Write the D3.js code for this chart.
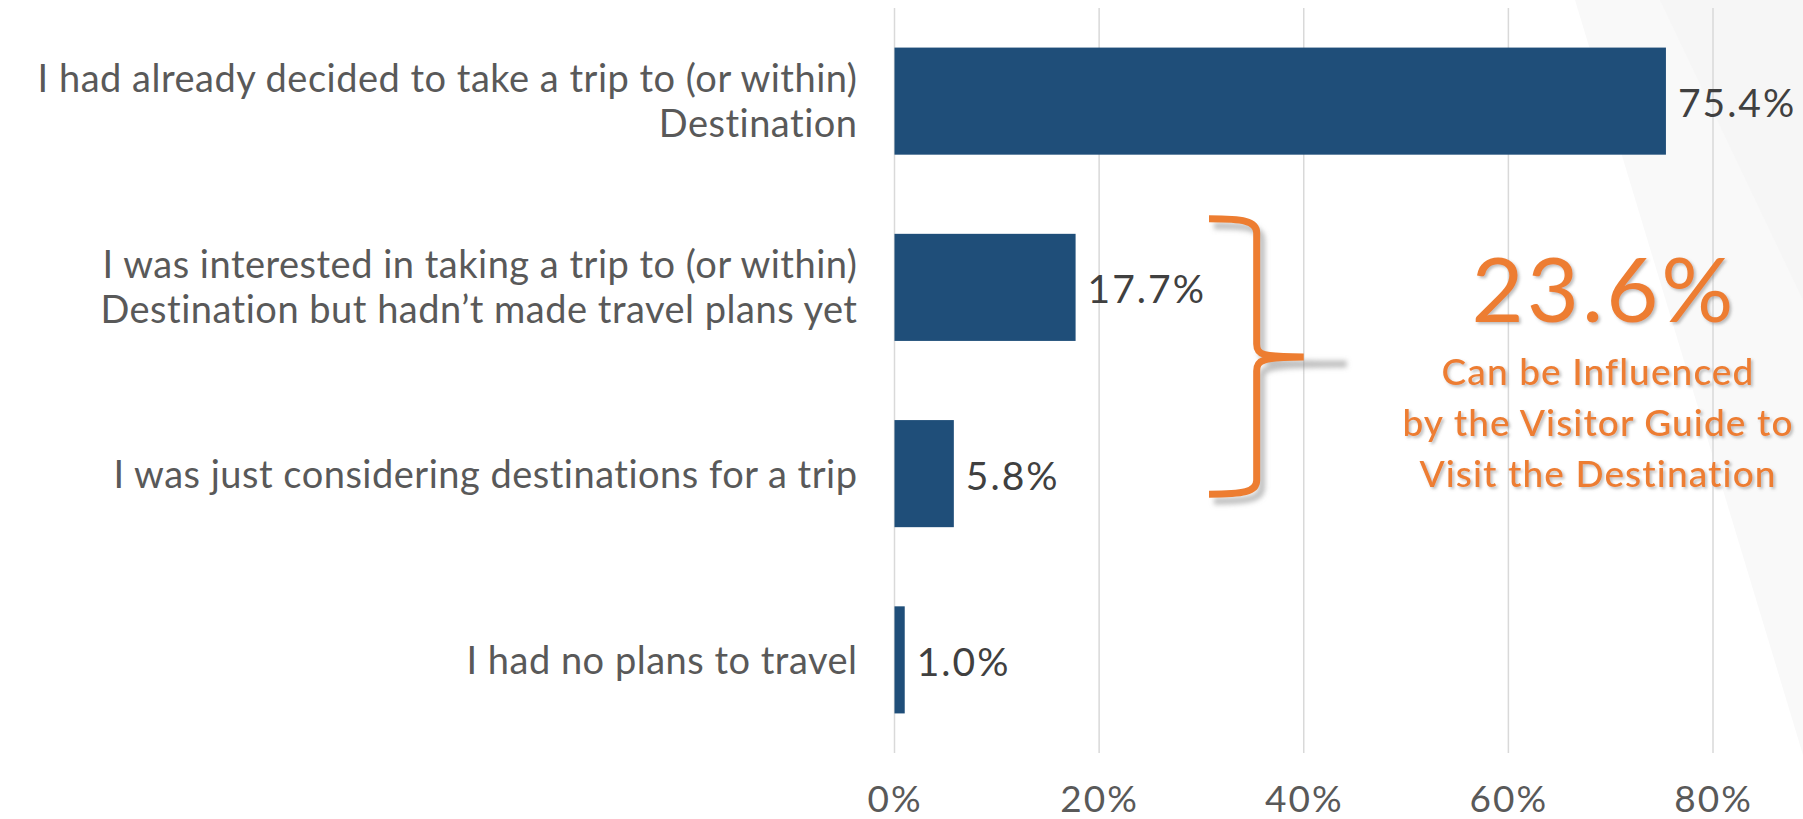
<!DOCTYPE html>
<html>
<head>
<meta charset="utf-8">
<script src="https://cdn.jsdelivr.net/npm/d3@7"></script>
<style>
  html, body { margin: 0; padding: 0; background: #ffffff; }
  svg { display: block; }
  text { font-family: Lato, "Open Sans", sans-serif; }
</style>
</head>
<body>
<svg id="chart" width="1803" height="819"></svg>
<script>
// Survey responses: trip planning stage before using the Visitor Guide
const categories = [
  "I had already decided to take a trip to (or within)\nDestination",
  "I was interested in taking a trip to (or within)\nDestination but hadn\u2019t made travel plans yet",
  "I was just considering destinations for a trip",
  "I had no plans to travel"
];
const values = [0.754, 0.177, 0.058, 0.010];
const tickValues = [0, 0.2, 0.4, 0.6, 0.8];
const tickLabels = ["0%", "20%", "40%", "60%", "80%"];
const influencedShare = 0.236;
const influencedLines = ["Can be Influenced", "by the Visitor Guide to", "Visit the Destination"];

const W = 1803, H = 819;
const plot = { left: 894.5, right: 1713, top: 8, bottom: 753 };

const svg = d3.select("#chart");
const defs = svg.append("defs");

// soft shadow for the orange annotation text
const ts = defs.append("filter").attr("id", "textShadow")
  .attr("x", "-10%").attr("y", "-10%").attr("width", "120%").attr("height", "130%");
ts.append("feDropShadow").attr("dx", 2).attr("dy", 2).attr("stdDeviation", 1.4)
  .attr("flood-color", "#6d6d6d").attr("flood-opacity", 0.45);

const bs = defs.append("filter").attr("id", "braceShadow")
  .attr("x", "-50%").attr("y", "-20%").attr("width", "200%").attr("height", "140%");
bs.append("feGaussianBlur").attr("stdDeviation", 2.6);

// faint diagonal backdrop panels
svg.append("polygon")
  .attr("points", "1575,0 1803,0 1803,755")
  .attr("fill", "#f9f9f9");
svg.append("polygon")
  .attr("points", "1660,0 1803,0 1803,300")
  .attr("fill", "#f3f3f3").attr("opacity", 0.5);

const x = d3.scaleLinear().domain([0, 0.8]).range([plot.left, plot.right]);
const y = d3.scaleBand().domain(categories)
  .range([plot.top, plot.bottom])
  .paddingInner(0.425).paddingOuter(0.2125);

// vertical gridlines
svg.append("g").selectAll("line")
  .data(tickValues)
  .join("line")
  .attr("x1", d => x(d)).attr("x2", d => x(d))
  .attr("y1", plot.top).attr("y2", plot.bottom)
  .attr("stroke", "#d9d9d9").attr("stroke-width", 1.5);

// x axis tick labels
const xAxis = d3.axisBottom(x)
  .tickValues(tickValues)
  .tickFormat((d, i) => tickLabels[i])
  .tickSize(0).tickPadding(0);
const gx = svg.append("g")
  .attr("transform", `translate(0,${plot.bottom})`)
  .call(xAxis);
gx.select(".domain").remove();
gx.selectAll("text")
  .attr("dy", null).attr("y", 59)
  .attr("fill", "#595959")
  .style("font-family", "Lato, sans-serif")
  .style("font-size", "37px")
  .style("letter-spacing", "2px");

// bars
svg.append("g").selectAll("rect")
  .data(values)
  .join("rect")
  .attr("x", x(0))
  .attr("y", (d, i) => y(categories[i]))
  .attr("width", d => x(d) - x(0))
  .attr("height", y.bandwidth())
  .attr("fill", "#1f4e79");

// value labels
const fmt = d3.format(".1%");
svg.append("g").selectAll("text")
  .data(values)
  .join("text")
  .attr("x", d => x(d) + 12)
  .attr("y", (d, i) => y(categories[i]) + y.bandwidth() / 2 + 16)
  .attr("fill", "#404040")
  .style("font-size", "39px")
  .style("letter-spacing", "2px")
  .text(d => fmt(d));

// category labels (right aligned, wrapped on \n)
const catG = svg.append("g");
categories.forEach(c => {
  const lines = c.split("\n");
  const cy = y(c) + y.bandwidth() / 2;
  const lh = 45;
  const first = cy + 14.5 - (lines.length - 1) * lh / 2 - 1.5 * (lines.length - 1);
  const t = catG.append("text")
    .attr("text-anchor", "end")
    .attr("fill", "#595959")
    .style("font-size", "38px")
    .style("letter-spacing", "0.5px");
  lines.forEach((ln, k) => {
    t.append("tspan").attr("x", x(0) - 37).attr("y", first + k * lh).text(ln);
  });
});

// curly brace grouping the two "undecided" responses
const orange = "#ed7d31";
const bx0 = x(0.3074), bx1 = x(0.354), bTip = x(0.40);
const bTop = y(categories[1]) - 15, bBot = y(categories[2]) + y.bandwidth() - 33;
const bMid = 357;
function bracePath(tipX) {
  const p = d3.path();
  p.moveTo(bx0, bTop);
  p.bezierCurveTo(bx0 + 34, bTop, bx1, bTop + 2, bx1, bTop + 14);
  p.lineTo(bx1, bMid - 13);
  p.bezierCurveTo(bx1, bMid - 2, bx1 + 6, bMid, tipX, bMid);
  p.moveTo(tipX, bMid);
  p.bezierCurveTo(bx1 + 6, bMid, bx1, bMid + 3, bx1, bMid + 14);
  p.lineTo(bx1, bBot - 14);
  p.bezierCurveTo(bx1, bBot - 2, bx0 + 34, bBot, bx0, bBot);
  return p.toString();
}
svg.append("path")
  .attr("d", bracePath(bTip + 38))
  .attr("transform", "translate(5,7)")
  .attr("fill", "none")
  .attr("stroke", "#8c8c8c").attr("stroke-opacity", 0.55)
  .attr("stroke-width", 7)
  .attr("filter", "url(#braceShadow)");
svg.append("path")
  .attr("d", bracePath(bTip))
  .attr("fill", "none")
  .attr("stroke", orange)
  .attr("stroke-width", 7);

// annotation text
const ann = svg.append("g").attr("filter", "url(#textShadow)").attr("fill", orange);
ann.append("text")
  .attr("x", 1604).attr("y", 322)
  .attr("text-anchor", "middle")
  .style("font-size", "90px")
  .style("letter-spacing", "3px")
  .text(fmt(influencedShare));
ann.selectAll("text.sub")
  .data(influencedLines)
  .join("text")
  .attr("class", "sub")
  .attr("x", 1598)
  .attr("y", (d, i) => 385 + i * 51)
  .attr("text-anchor", "middle")
  .style("font-size", "37px")
  .style("font-weight", 500)
  .style("letter-spacing", "1.1px")
  .text(d => d);
</script>
</body>
</html>
